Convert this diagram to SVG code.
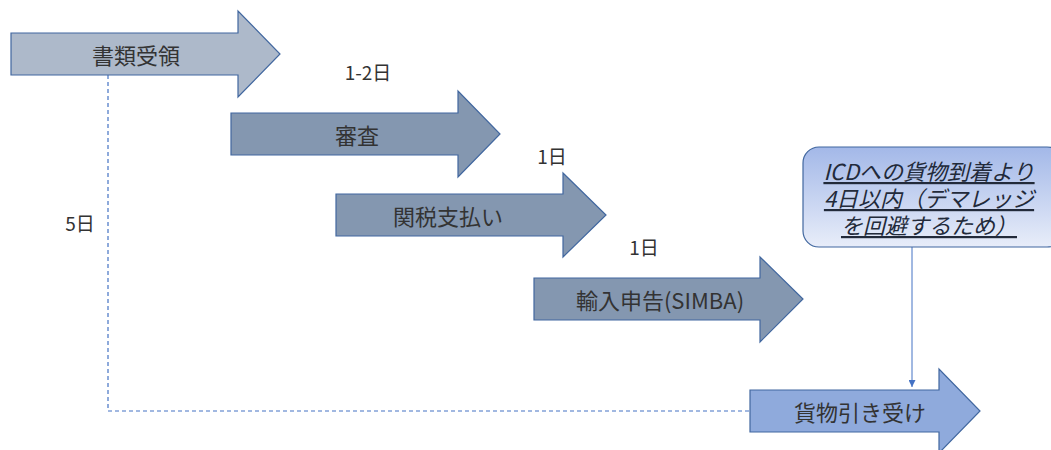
<svg xmlns="http://www.w3.org/2000/svg" width="1051" height="450" viewBox="0 0 1051 450">
<style>
.arr{stroke:#41679f;stroke-width:1.2}
.lbl{font-family:"Noto Sans CJK JP","Liberation Sans",sans-serif;font-size:22px;fill:#333333;text-anchor:middle;dominant-baseline:central}
.day{font-family:"Noto Sans CJK JP","Liberation Sans",sans-serif;font-size:19px;fill:#333333;text-anchor:middle;dominant-baseline:central}
.note{font-family:"Noto Sans CJK JP","Liberation Sans",sans-serif;font-size:22px;font-style:italic;text-decoration:underline;fill:#222a3a;text-anchor:middle}
</style>
<defs>
<linearGradient id="g" x1="0" y1="0" x2="0" y2="1">
<stop offset="0" stop-color="#a3b8e8"/>
<stop offset="1" stop-color="#e8edf9"/>
</linearGradient>
<marker id="ah" viewBox="0 0 10 10" refX="10" refY="5" markerWidth="7" markerHeight="7" markerUnits="userSpaceOnUse" orient="auto">
<path d="M0,0 L10,5 L0,10 z" fill="#4472c4"/>
</marker>
</defs>
<g id="connectors">
<polyline points="108,75 108,411 750,411" fill="none" stroke="#4472c4" stroke-width="1.2" stroke-dasharray="4,3"/>
<line x1="912" y1="247" x2="912" y2="387" stroke="#4472c4" stroke-width="1" marker-end="url(#ah)"/>
</g>
<g id="n1">
<path class="arr" fill="#adb9ca" d="M11,33 H238 V11 L280,54 L238,97 V75 H11 Z"/>
<text class="lbl" x="136" y="54">書類受領</text>
</g>
<g id="n2">
<path class="arr" fill="#8497b0" d="M231,113 H458 V91 L500,134 L458,177 V155 H231 Z"/>
<text class="lbl" x="357" y="134">審査</text>
</g>
<g id="n3">
<path class="arr" fill="#8497b0" d="M336,194 H563 V173 L606,215 L563,257 V236 H336 Z"/>
<text class="lbl" x="448" y="215">関税支払い</text>
</g>
<g id="n4">
<path class="arr" fill="#8497b0" d="M534,278 H760 V257 L803,299 L760,342 V320 H534 Z"/>
<text class="lbl" x="660" y="299">輸入申告(SIMBA)</text>
</g>
<g id="n5">
<path class="arr" fill="#8faadc" d="M750,390 H939 V369 L980,411 L939,453 V432 H750 Z"/>
<text class="lbl" x="860" y="411">貨物引き受け</text>
</g>
<g id="note">
<rect x="803" y="147" width="260" height="100" rx="16" ry="16" fill="url(#g)" stroke="#41679f" stroke-width="1.2"/>
<text class="note" x="929" y="180"><tspan x="929" y="180">ICDへの貨物到着より</tspan><tspan x="929" y="207">4日以内（デマレッジ</tspan><tspan x="929" y="234">を回避するため）</tspan></text>
</g>
<g id="days">
<text class="day" x="368" y="71">1-2日</text>
<text class="day" x="552" y="155">1日</text>
<text class="day" x="644" y="246">1日</text>
<text class="day" x="80" y="222">5日</text>
</g>
</svg>
